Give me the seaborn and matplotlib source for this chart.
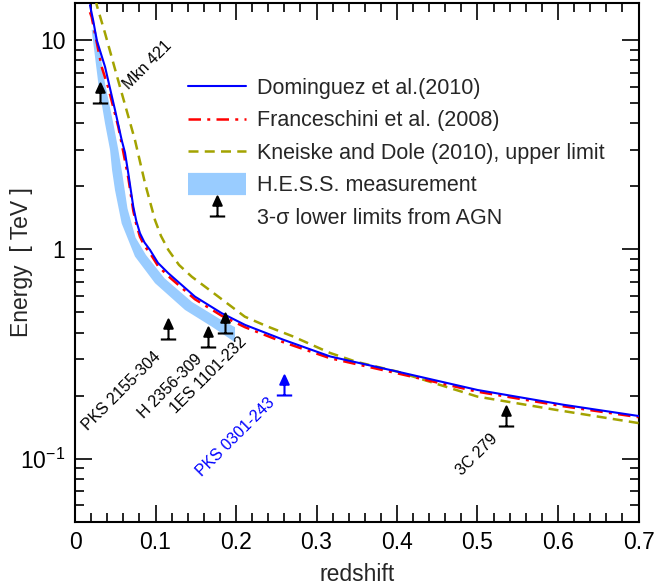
import numpy as np
import seaborn as sns
import matplotlib.pyplot as plt
from matplotlib.path import Path
from matplotlib.lines import Line2D
from matplotlib.ticker import MultipleLocator, LogLocator, NullFormatter

# EBL model curves: redshift vs cut-off energy [TeV]
dom_z = [0.0186, 0.0228, 0.027, 0.0373, 0.0497, 0.058, 0.0621, 0.0662, 0.0724, 0.0761, 0.0807,
         0.0863, 0.0932, 0.103, 0.1159, 0.149, 0.1822, 0.2112, 0.259, 0.317, 0.40, 0.50, 0.607, 0.70]
dom_e = [14.7, 12.3, 10.0, 7.46, 4.64, 3.33, 2.9, 2.31, 1.60, 1.37, 1.195,
         1.08, 0.994, 0.863, 0.770, 0.595, 0.496, 0.436, 0.37, 0.308, 0.261, 0.213, 0.181, 0.160]

fra_z = [0.0186, 0.0207, 0.0331, 0.0415, 0.0538, 0.058, 0.0662, 0.0724, 0.0761, 0.0807, 0.0863,
         0.0932, 0.103, 0.1159, 0.149, 0.1822, 0.2112, 0.259, 0.317, 0.40, 0.50, 0.607, 0.70]
fra_e = [13.6, 12.9, 7.46, 5.9, 3.85, 3.2, 2.2, 1.53, 1.32, 1.15, 1.04,
         0.96, 0.835, 0.745, 0.578, 0.482, 0.425, 0.36, 0.302, 0.256, 0.209, 0.178, 0.158]

kne_z = [0.025, 0.027, 0.0373, 0.0512, 0.0745, 0.087, 0.0932, 0.0994, 0.1068, 0.116, 0.1292,
         0.145, 0.178, 0.211, 0.238, 0.27, 0.317, 0.35, 0.40, 0.50, 0.598, 0.70]
kne_e = [16.5, 14.7, 10.8, 6.93, 3.33, 2.07, 1.69, 1.38, 1.16, 0.994, 0.843,
         0.741, 0.595, 0.477, 0.43, 0.385, 0.32, 0.29, 0.261, 0.198, 0.171, 0.148]

# H.E.S.S. band edges
hess_up_z = [0.0207, 0.0248, 0.027, 0.0373, 0.0476, 0.0538, 0.0588, 0.0652, 0.0752, 0.0882,
             0.1112, 0.1453, 0.1795, 0.1988]
hess_up_e = [11.2, 11.2, 10.8, 6.2, 4.0, 3.0, 2.29, 1.57, 1.14, 0.94,
             0.728, 0.561, 0.466, 0.425]
hess_lo_z = [0.0207, 0.029, 0.0373, 0.0435, 0.046, 0.0497, 0.058, 0.0745, 0.0994, 0.1366,
             0.1698, 0.1988]
hess_lo_e = [11.2, 6.2, 4.0, 3.0, 2.4, 1.92, 1.33, 0.925, 0.69, 0.514,
             0.428, 0.36]

# AGN 3-sigma lower limits
agn_names = ['Mkn 421', 'PKS 2155-304', 'H 2356-309', '1ES 1101-232', 'PKS 0301-243', '3C 279']
agn_z = [0.031, 0.116, 0.165, 0.186, 0.26, 0.536]
agn_e = [5.0, 0.372, 0.341, 0.398, 0.202, 0.143]
agn_colors = ['black', 'black', 'black', 'black', 'blue', 'black']
label_z = [0.090, 0.0584, 0.118, 0.166, 0.200, 0.499]
label_e = [7.6, 0.211, 0.221, 0.252, 0.127, 0.104]

band_color = '#99ccff'
olive = '#a3a300'

sns.set_theme(style='ticks')
plt.rcParams['font.family'] = ['Liberation Sans', 'DejaVu Sans']
plt.rcParams['mathtext.default'] = 'regular'

fig = plt.figure(figsize=(6.58, 5.88), dpi=100)
ax = fig.add_axes([75 / 658, 1 - 521.7 / 588, 563.5 / 658, 518.4 / 588])

# band
ax.fill(np.concatenate([hess_up_z, hess_lo_z[::-1]]),
        np.concatenate([hess_up_e, hess_lo_e[::-1]]),
        color=band_color, lw=0, zorder=1)

sns.lineplot(x=kne_z, y=kne_e, ax=ax, color=olive, lw=1.8, linestyle=(0, (4, 2.5)), sort=False, zorder=3)
sns.lineplot(x=fra_z, y=fra_e, ax=ax, color='red', lw=1.8, linestyle=(0, (5, 2.5, 1.2, 2.5)), sort=False, zorder=4)
sns.lineplot(x=dom_z, y=dom_e, ax=ax, color='blue', lw=1.5, sort=False, zorder=5)

# lower-limit symbol: bar, stem and filled arrow head
verts = [(-1, 0), (1, 0), (0, 0), (0, 1.4),
         (-0.55, 1.4), (0.55, 1.4), (0, 2.6), (-0.55, 1.4)]
codes = [Path.MOVETO, Path.LINETO, Path.MOVETO, Path.LINETO,
         Path.MOVETO, Path.LINETO, Path.LINETO, Path.CLOSEPOLY]
agn_marker = Path(verts, codes)

for z, e, c in zip(agn_z, agn_e, agn_colors):
    ax.plot([z], [e], marker=agn_marker, ms=28.8, mew=1.5, color=c, mfc=c, ls='none', zorder=6)

for name, z, e, c in zip(agn_names, label_z, label_e, agn_colors):
    ax.text(z, e, name, rotation=45, ha='center', va='center', fontsize=11.5, color=c)

ax.set_yscale('log')
ax.set_xlim(0, 0.7)
ax.set_ylim(0.05, 15)
ax.set_yticks([0.1, 1, 10], labels=['10$^{-1}$', '1', '10'])
ax.yaxis.set_minor_locator(LogLocator(base=10, subs=np.arange(2, 10)))
ax.yaxis.set_minor_formatter(NullFormatter())
ax.xaxis.set_major_locator(MultipleLocator(0.1))
ax.xaxis.set_minor_locator(MultipleLocator(0.02))
ax.set_xticks(np.arange(0, 0.71, 0.1), labels=['0', '0.1', '0.2', '0.3', '0.4', '0.5', '0.6', '0.7'])

ax.tick_params(which='both', direction='in', top=True, right=True, colors='black', labelsize=16.5)
ax.tick_params(which='major', length=12, width=1.2, pad=7)
ax.tick_params(which='minor', length=6.5, width=1.2)
for sp in ax.spines.values():
    sp.set_linewidth(1.5)
    sp.set_color('black')

ax.set_xlabel('redshift', fontsize=16.5, labelpad=6)
ax.set_ylabel('Energy  [ TeV ]', fontsize=16.5)
ax.yaxis.set_label_coords(-0.075, 0.5)

handles = [
    Line2D([], [], color='blue', lw=1.5),
    Line2D([], [], color='red', lw=1.8, linestyle=(0, (5, 2.5, 1.2, 2.5))),
    Line2D([], [], color=olive, lw=1.8, linestyle=(0, (4, 2.5))),
    Line2D([], [], color=band_color, lw=16, solid_capstyle='butt'),
    Line2D([], [], marker=agn_marker, ms=28.8, mew=1.5, color='black', ls='none'),
]
labels = ['Dominguez et al.(2010)', 'Franceschini et al. (2008)',
          'Kneiske and Dole (2010), upper limit', 'H.E.S.S. measurement',
          '3-σ lower limits from AGN']
ax.legend(handles, labels, loc='upper left', bbox_to_anchor=(0.2005, 0.8559),
          frameon=False, fontsize=15.5, borderpad=0, borderaxespad=0,
          handlelength=2.7, handletextpad=0.5, labelspacing=0.53)

fig.savefig('out.png', dpi=100)
